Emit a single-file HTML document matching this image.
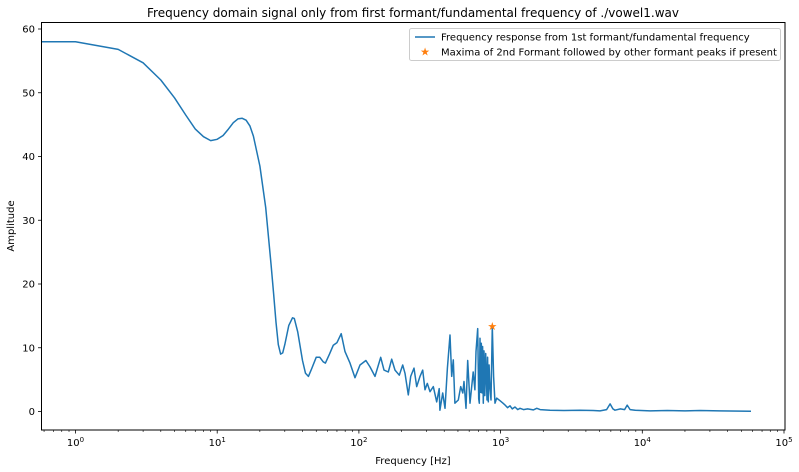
<!DOCTYPE html>
<html><head><meta charset="utf-8"><style>
body{margin:0;background:#fff;}
svg{font-family:"DejaVu Sans","Liberation Sans",sans-serif;display:block}
</style></head><body>
<svg id="chart" width="799" height="472" viewBox="0 0 799 472" xmlns="http://www.w3.org/2000/svg">
<rect width="799" height="472" fill="#fff"/>
<text x="413" y="17" font-size="12" text-anchor="middle" fill="#000">Frequency domain signal only from first formant/fundamental frequency of ./vowel1.wav</text>
<g id="grid"></g>
<g id="series"></g>
<rect x="41.5" y="22.5" width="743.5" height="407.5" fill="none" stroke="#000" stroke-width="1"/>
<g id="xaxis"></g><g id="yaxis"></g>
<text x="413" y="464" font-size="10" text-anchor="middle">Frequency [Hz]</text>
<text x="14" y="226" font-size="10" text-anchor="middle" transform="rotate(-90 14 226)">Amplitude</text>
<g>
<rect x="409.5" y="28.5" width="371" height="32" rx="2" fill="#fff" stroke="#ccc"/>
<line x1="415" y1="37" x2="435" y2="37" stroke="#1f77b4" stroke-width="1.5"/>
<text x="441" y="40.5" font-size="10">Frequency response from 1st formant/fundamental frequency</text>
<text x="425" y="55.5" font-size="11" text-anchor="middle" fill="#ff7f0e">★</text>
<text x="441" y="55.5" font-size="10">Maxima of 2nd Formant followed by other formant peaks if present</text>
</g>
</svg>
<script>
const freqs=[0.5,1,2,3,4,5,6,7,8,9,10,11,12,13,14,15,16,17,18,20,22,24,25,26,27,28,29,30,32,34,35,37,40,42,44,46,50,53,56,58,62,66,70,75,79.8,86.5,93.8,101.8,112,119.7,130,142.6,150.4,161.2,170.3,179.8,192.8,203.7,211.4,223.2,232.1,244.9,255.9,270,282,292.6,303.9,317.5,335,354,369,373,390,405,421,439.5,452,463.6,476,503,523,541,552,570,586,608,625,641,659,670,689,700,708,716,724,731,739,747,755,764,773,785,802,810,819,830,841,855,874,893,913,938,990,1040,1075,1120,1165,1210,1264,1320,1371,1450,1550,1700,1800,1900,2233,2800,3630,4500,5030,5600,5930,6200,6420,7000,7500,7820,8200,8890,11350,15000,20000,25600,35000,58500];
const amps=[58,58,56.8,54.7,52,49.2,46.5,44.3,43.1,42.5,42.7,43.3,44.3,45.3,45.9,46,45.7,44.8,43.2,38.5,32,23,18.5,14,10.5,9,9.2,10.5,13.5,14.7,14.6,12.5,8,6,5.5,6.5,8.5,8.5,7.8,7.6,9,10.4,10.8,12.2,9.4,7.6,5.3,7.3,8.0,7.0,5.5,8.5,6.5,6.2,8.2,6.5,5.7,7.3,6.0,2.6,5.5,6.8,3.9,5.5,6.5,3.4,4.4,3.1,3.9,1.5,3.6,0.2,2.9,0.5,6.8,12.0,5.5,8.1,1.3,1.8,3.9,2.9,4.7,0.5,8.0,1.3,3.9,6.2,3.4,9.4,13.0,2.0,1.3,11.5,3.0,10.7,2.9,10.2,1.3,9.5,2.5,9.1,1.8,8.5,1.5,7.3,3.9,1.8,13.3,5.5,1.3,2.1,1.7,1.3,1.0,0.6,0.9,0.4,0.7,0.3,0.5,0.3,0.4,0.25,0.5,0.3,0.2,0.15,0.2,0.15,0.1,0.3,1.2,0.4,0.2,0.4,0.3,1.0,0.3,0.2,0.1,0.15,0.1,0.15,0.1,0.05];
const peakFreq=[874];const peakAmp=[13.4];
const xTickExp=[0,1,2,3,4,5];
const yTicks=[0,10,20,30,40,50,60];
const NS="http://www.w3.org/2000/svg";
const X0=41.5,X1=785;
function xs(f){return 75.5+141.7*Math.log10(f);}
function ys(a){return 411.5-6.375*a;}
function mk(t,attrs,parent){const e=document.createElementNS(NS,t);for(const k in attrs)e.setAttribute(k,attrs[k]);parent.appendChild(e);return e;}
const xa=document.getElementById('xaxis'),ya=document.getElementById('yaxis'),se=document.getElementById('series');
for(let d=-1;d<=5;d++){for(let m=1;m<10;m++){const f=m*Math.pow(10,d);const x=xs(f);if(x<X0||x>X1+0.5)continue;
const major=m===1;const t=mk('line',{x1:x,x2:x,y1:430,y2:major?433.5:432,stroke:'#000','stroke-width':major?0.8:0.6},xa);

}}
xTickExp.forEach(e=>{const x=xs(Math.pow(10,e));const t=mk('text',{x:x,y:446,'font-size':10,'text-anchor':'middle'},xa);


t.textContent='10';const s=mk('tspan',{dy:-4,'font-size':7},t);s.textContent=String(e);});
yTicks.forEach(v=>{const y=ys(v);const l=mk('line',{x1:38,x2:41.5,y1:y,y2:y,stroke:'#000','stroke-width':0.8},ya);


const t=mk('text',{x:35,y:y+3.5,'font-size':10,'text-anchor':'end'},ya);


t.textContent=String(v);});
const pts=freqs.map((f,i)=>Math.max(X0,xs(f)).toFixed(1)+','+ys(amps[i]).toFixed(1)).join(' ');
const pl=mk('polyline',{points:pts,fill:'none',stroke:'#1f77b4','stroke-width':1.5,'stroke-linejoin':'round'},se);


peakFreq.forEach((f,i)=>{const t=mk('text',{x:xs(f),y:ys(peakAmp[i])+4,'font-size':11,'text-anchor':'middle',fill:'#ff7f0e'},se);


t.textContent='★';});
</script>
</body></html>
